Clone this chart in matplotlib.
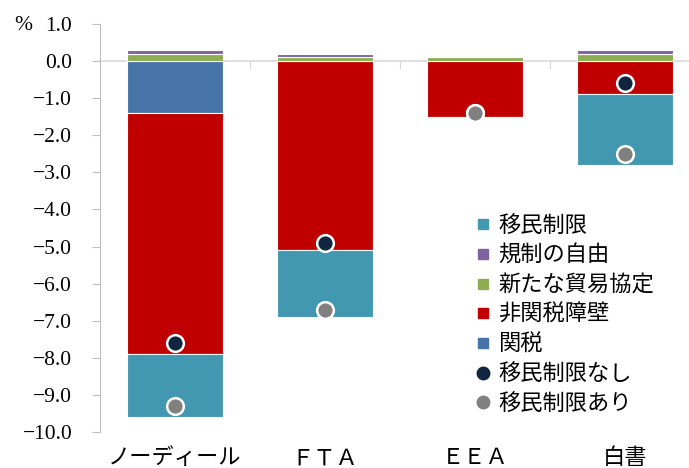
import matplotlib.pyplot as plt
from matplotlib.lines import Line2D
import numpy as np

plt.rcParams['font.family'] = ['Noto Sans CJK JP', 'DejaVu Sans']

# data (％)
categories = ['ノーディール', 'ＦＴＡ', 'ＥＥＡ', '白書']
tariff = [-1.4, 0.0, 0.0, 0.0]
non_tariff = [-6.5, -5.1, -1.5, -0.9]
migration = [-1.7, -1.8, 0.0, -1.9]
new_trade = [0.2, 0.1, 0.1, 0.2]
regulation = [0.1, 0.1, 0.0, 0.1]
no_migration = [-7.6, -4.9, -1.4, -0.6]
with_migration = [-9.3, -6.7, -1.4, -2.5]

c_mig = '#4298b0'
c_reg = '#7f62a1'
c_new = '#8cae51'
c_ntb = '#c00000'
c_tar = '#4674a8'
c_no = '#10253f'
c_with = '#808080'

fig = plt.figure(figsize=(6.89, 4.68), dpi=100)
ax = fig.add_axes([100 / 689, 1 - 432 / 468, 589 / 689, 408 / 468])

x = np.arange(len(categories))
w = 0.645
edge = dict(edgecolor='white', linewidth=0.8, zorder=2)

ax.bar(x, tariff, w, color=c_tar, **edge)
ax.bar(x, non_tariff, w, bottom=tariff, color=c_ntb, **edge)
b2 = np.array(tariff) + np.array(non_tariff)
ax.bar(x, migration, w, bottom=b2, color=c_mig, **edge)
ax.bar(x, new_trade, w, color=c_new, **edge)
ax.bar(x, regulation, w, bottom=new_trade, color=c_reg, **edge)

ax.plot(x, no_migration, 'o', color=c_no, ms=12, mec='white', mew=1.8, zorder=3)
ax.plot(x, with_migration, 'o', color=c_with, ms=12, mec='white', mew=1.8, zorder=4)

ax.set_xlim(-0.5, -0.5 + 589 / 150)
ax.set_ylim(-10, 1)

# axes styling
for s in ['top', 'right']:
    ax.spines[s].set_visible(False)
ax.spines['left'].set_color('#bfbfbf')
ax.spines['bottom'].set_position(('data', 0))
ax.spines['bottom'].set_color('#d9d9d9')
ax.spines['bottom'].set_linewidth(1.2)
ax.spines['bottom'].set_zorder(1)

serif = ['Liberation Serif', 'Noto Sans CJK JP']
yt = np.arange(-10, 2, 1)
ax.set_yticks(yt)
ax.set_yticklabels([f'{v:.1f}'.replace('-', '−') for v in yt], family=serif, fontsize=15.5)
ax.tick_params(axis='y', length=6, color='#bfbfbf', pad=14)
ax.set_xticks([0.5, 1.5, 2.5])
ax.set_xticklabels([])
ax.tick_params(axis='x', length=6, color='#d9d9d9', direction='out')

fig.text(14 / 689, 1 - 25 / 468, '%', fontsize=15.5, family=serif, va='center', ha='left')

for i, c in enumerate(categories):
    ax.text(i, -10.7, c, ha='center', va='center', fontsize=16)

handles = [
    Line2D([], [], ls='', marker='s', color=c_mig, ms=7),
    Line2D([], [], ls='', marker='s', color=c_reg, ms=7),
    Line2D([], [], ls='', marker='s', color=c_new, ms=7),
    Line2D([], [], ls='', marker='s', color=c_ntb, ms=7),
    Line2D([], [], ls='', marker='s', color=c_tar, ms=7),
    Line2D([], [], ls='', marker='o', color=c_no, ms=9),
    Line2D([], [], ls='', marker='o', color=c_with, ms=9),
]
labels = ['移民制限', '規制の自由', '新たな貿易協定', '非関税障壁', '関税',
          '移民制限なし', '移民制限あり']
fig.legend(handles, labels, loc='upper left', bbox_to_anchor=(474 / 689, 1 - 214 / 468),
           frameon=False, fontsize=16, handlelength=0.8, handletextpad=0.3,
           labelspacing=0.3, borderpad=0, borderaxespad=0)

fig.savefig('out.png', dpi=100)
